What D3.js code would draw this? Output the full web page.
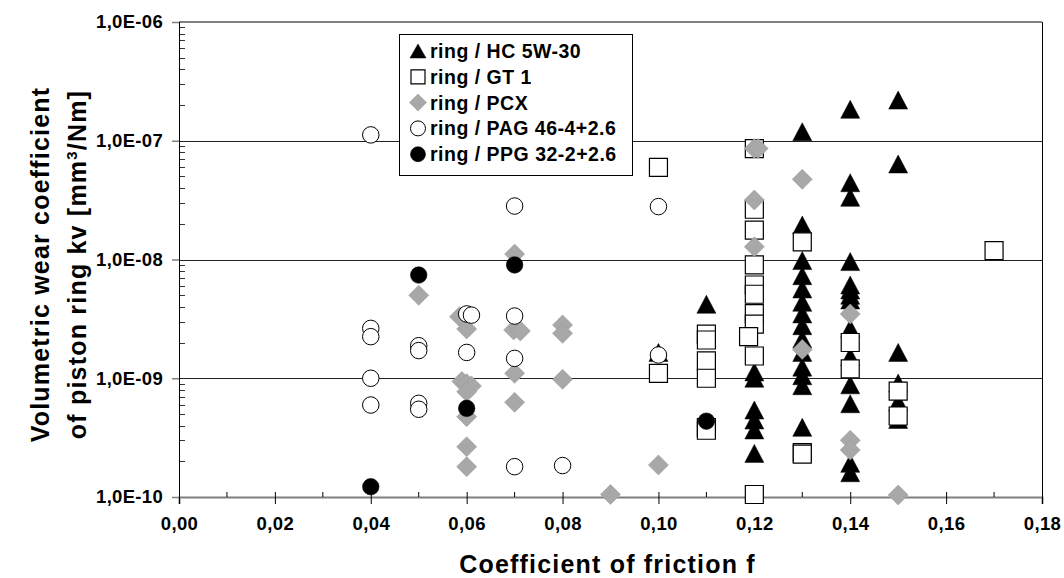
<!DOCTYPE html>
<html>
<head>
<meta charset="utf-8">
<script src="https://cdn.jsdelivr.net/npm/d3@7/dist/d3.min.js"></script>
<style>
  html, body { margin: 0; padding: 0; background: #fff; }
  svg { display: block; }
  text { font-family: "Liberation Sans", Arial, Helvetica, sans-serif; font-weight: bold; fill: #000; }
</style>
</head>
<body>
<svg id="chart" width="1064" height="578"></svg>
<script>
// ---- data: coefficient of friction f and volumetric wear coefficient kv [mm³/Nm] ----
const hcF  = [0.10, 0.11,
  0.12, 0.12, 0.12, 0.12, 0.12, 0.12,
  0.13, 0.13, 0.13, 0.13, 0.13, 0.13, 0.13, 0.13, 0.13, 0.13, 0.13, 0.13, 0.13, 0.13,
  0.14, 0.14, 0.14, 0.14, 0.14, 0.14, 0.14, 0.14, 0.14, 0.14, 0.14, 0.14, 0.14, 0.14,
  0.15, 0.15, 0.15, 0.15, 0.15, 0.15];
const hcKv = [1.65e-9, 4.2e-9,
  1.13e-9, 1.0e-9, 5.4e-10, 4.45e-10, 3.67e-10, 2.33e-10,
  1.19e-7, 1.95e-8, 9.8e-9, 7.3e-9, 5.65e-9, 4.36e-9, 3.48e-9, 2.77e-9, 2.14e-9, 1.65e-9, 1.24e-9, 1.05e-9, 8.65e-10, 3.86e-10,
  1.84e-7, 4.43e-8, 3.34e-8, 9.6e-9, 6.1e-9, 5.54e-9, 5.0e-9, 4.56e-9, 2.63e-9, 1.52e-9, 8.8e-10, 6.1e-10, 1.92e-10, 1.6e-10,
  2.2e-7, 6.37e-8, 1.65e-9, 9.1e-10, 6.3e-10, 4.5e-10];

const gtF  = [0.10, 0.10,
  0.11, 0.11, 0.11, 0.11, 0.11, 0.11,
  0.12, 0.12, 0.12, 0.12, 0.12, 0.12, 0.12, 0.12, 0.1188, 0.12, 0.12,
  0.13, 0.13, 0.13,
  0.14, 0.14,
  0.15, 0.15,
  0.17];
const gtKv = [5.97e-8, 1.1e-9,
  2.35e-9, 2.1e-9, 1.4e-9, 1.0e-9, 3.85e-10, 3.65e-10,
  8.6e-8, 2.65e-8, 1.77e-8, 9.0e-9, 6.1e-9, 5.1e-9, 3.5e-9, 2.86e-9, 2.24e-9, 1.54e-9, 1.05e-10,
  1.41e-8, 2.36e-10, 2.3e-10,
  2.0e-9, 1.2e-9,
  7.8e-10, 4.81e-10,
  1.19e-8];

const pcxF  = [0.05,
  0.0585, 0.06, 0.059, 0.06, 0.061, 0.06, 0.06, 0.06, 0.06,
  0.07, 0.0698, 0.0712, 0.07, 0.07,
  0.08, 0.08, 0.08,
  0.09, 0.10,
  0.12, 0.1208, 0.12, 0.12,
  0.13, 0.13,
  0.14, 0.14, 0.14,
  0.15];
const pcxKv = [5.0e-9,
  3.3e-9, 2.6e-9, 9.4e-10, 9.0e-10, 8.6e-10, 7.7e-10, 4.75e-10, 2.65e-10, 1.8e-10,
  1.11e-8, 2.55e-9, 2.5e-9, 1.1e-9, 6.27e-10,
  2.81e-9, 2.39e-9, 9.8e-10,
  1.05e-10, 1.86e-10,
  8.6e-8, 8.6e-8, 3.17e-8, 1.28e-8,
  4.73e-8, 1.75e-9,
  3.48e-9, 3.0e-10, 2.49e-10,
  1.04e-10];

const pagF  = [0.04, 0.04, 0.04, 0.04, 0.04,
  0.05, 0.05, 0.05, 0.05,
  0.06, 0.061, 0.06,
  0.07, 0.07, 0.07, 0.07,
  0.08,
  0.10, 0.10];
const pagKv = [1.12e-7, 2.63e-9, 2.24e-9, 1.0e-9, 5.95e-10,
  1.88e-9, 1.71e-9, 6.15e-10, 5.48e-10,
  3.48e-9, 3.4e-9, 1.65e-9,
  2.82e-8, 3.34e-9, 1.47e-9, 1.8e-10,
  1.84e-10,
  2.79e-8, 1.57e-9];

const ppgF  = [0.04, 0.05, 0.06, 0.07, 0.11];
const ppgKv = [1.22e-10, 7.4e-9, 5.58e-10, 9.0e-9, 4.35e-10];

const seriesNames = ["ring / HC 5W-30", "ring / GT 1", "ring / PCX", "ring / PAG 46-4+2.6", "ring / PPG 32-2+2.6"];
const xTicks = [0, 0.02, 0.04, 0.06, 0.08, 0.10, 0.12, 0.14, 0.16, 0.18];
const yTicks = [1e-10, 1e-9, 1e-8, 1e-7, 1e-6];

// ---- layout ----
const plot = { left: 179, right: 1042, top: 22, bottom: 497 };
const svg = d3.select("#chart");

const x = d3.scaleLinear().domain([0, 0.18]).range([plot.left, plot.right]);
const y = d3.scaleLog().domain([1e-10, 1e-6]).range([plot.bottom, plot.top]);

// marker shapes, centred on their bounding box
const shapes = {
  triangle: (s) => { const w = s.w / 2, h = s.h / 2; return `M0,${-h}L${w},${h}L${-w},${h}Z`; },
  square:   (s) => { const w = s.w / 2; return `M${-w},${-w}H${w}V${w}H${-w}Z`; },
  diamond:  (s) => { const w = s.w / 2, h = s.h / 2; return `M0,${-h}L${w},0L0,${h}L${-w},0Z`; },
  circle:   (s) => { const r = s.w / 2; return `M${r},0A${r},${r} 0 1,1 ${-r},0A${r},${r} 0 1,1 ${r},0Z`; }
};

const series = [
  { name: seriesNames[0], f: hcF,  kv: hcKv,  shape: "triangle", fill: "#000",    stroke: "#000",    sw: 0.5, size: { w: 19, h: 18 }, leg: { w: 16, h: 14 } },
  { name: seriesNames[1], f: gtF,  kv: gtKv,  shape: "square",   fill: "#fff",    stroke: "#000",    sw: 1.2, size: { w: 18, h: 18 }, leg: { w: 14, h: 14 } },
  { name: seriesNames[2], f: pcxF, kv: pcxKv, shape: "diamond",  fill: "#a8a8a8", stroke: "#9c9c9c", sw: 0.6, size: { w: 20, h: 20 }, leg: { w: 17, h: 17 } },
  { name: seriesNames[3], f: pagF, kv: pagKv, shape: "circle",   fill: "#fff",    stroke: "#000",    sw: 1.0, size: { w: 16.5, h: 16.5 }, leg: { w: 15, h: 15 } },
  { name: seriesNames[4], f: ppgF, kv: ppgKv, shape: "circle",   fill: "#000",    stroke: "#000",    sw: 0.6, size: { w: 16.5, h: 16.5 }, leg: { w: 15, h: 15 } }
];

// ---- gridlines at each decade ----
svg.append("g")
  .selectAll("line")
  .data(yTicks.filter(d => d > 1e-10 && d < 1e-6))
  .join("line")
  .attr("x1", plot.left).attr("x2", plot.right)
  .attr("y1", d => Math.round(y(d)) + 0.5).attr("y2", d => Math.round(y(d)) + 0.5)
  .attr("stroke", "#222").attr("stroke-width", 1);

// top frame line and right frame line
svg.append("line")
  .attr("x1", plot.left).attr("x2", plot.right)
  .attr("y1", y(1e-6)).attr("y2", y(1e-6))
  .attr("stroke", "#7f7f7f").attr("stroke-width", 2);
svg.append("line")
  .attr("x1", plot.right + 0.5).attr("x2", plot.right + 0.5)
  .attr("y1", plot.top).attr("y2", plot.bottom)
  .attr("stroke", "#000").attr("stroke-width", 1);

// ---- x axis ----
const fmtX = d => d3.format(".2f")(d).replace(".", ",");
const xAxis = d3.axisBottom(x).tickValues(xTicks).tickFormat(fmtX).tickSize(7).tickPadding(13);
const gx = svg.append("g").attr("transform", `translate(0,${plot.bottom})`).call(xAxis);
gx.select(".domain").attr("stroke", "#7f7f7f").attr("stroke-width", 2);
gx.selectAll(".tick line").attr("stroke", "#000").attr("y1", -5);
gx.selectAll(".tick text").attr("font-size", 18.5).attr("font-family", "Liberation Sans, Arial, sans-serif")
  .attr("font-weight", "bold").attr("letter-spacing", 0.4);
// minor x ticks
const xMinor = d3.range(1, 18, 2).map(i => i / 100);
svg.append("g").selectAll("line").data(xMinor).join("line")
  .attr("x1", d => x(d)).attr("x2", d => x(d))
  .attr("y1", plot.bottom - 5).attr("y2", plot.bottom)
  .attr("stroke", "#000");

// ---- y axis ----
const fmtY = d => {
  const e = Math.round(Math.log10(d));
  return "1,0E-" + String(-e).padStart(2, "0");
};
const yAxis = d3.axisLeft(y).tickValues(yTicks).tickFormat(fmtY).tickSize(7).tickPadding(9);
const gy = svg.append("g").attr("transform", `translate(${plot.left},0)`).call(yAxis);
gy.select(".domain").attr("stroke", "#000").attr("stroke-width", 1);
gy.selectAll(".tick line").attr("stroke", "#7f7f7f").attr("stroke-width", 1.5);
gy.selectAll(".tick text").attr("font-size", 18.5).attr("font-family", "Liberation Sans, Arial, sans-serif")
  .attr("font-weight", "bold").attr("letter-spacing", 0.3);
// minor y ticks (2..9 within each decade), pointing into the plot
const yMinor = [];
for (let e = -10; e < -6; e++) for (let m = 2; m <= 9; m++) yMinor.push(m * Math.pow(10, e));
svg.append("g").selectAll("line").data(yMinor).join("line")
  .attr("x1", plot.left).attr("x2", plot.left + 6)
  .attr("y1", d => Math.round(y(d)) + 0.5).attr("y2", d => Math.round(y(d)) + 0.5)
  .attr("stroke", "#000").attr("stroke-width", 0.8);

// ---- axis titles ----
svg.append("text")
  .attr("x", (plot.left + plot.right) / 2 - 3).attr("y", 573)
  .attr("text-anchor", "middle").attr("font-size", 25).attr("letter-spacing", 1.2)
  .text("Coefficient of friction f");

const yTitle = svg.append("g").attr("transform", `translate(0,${(plot.top + plot.bottom) / 2 + 5}) rotate(-90)`);
yTitle.append("text").attr("x", 0).attr("y", 49)
  .attr("text-anchor", "middle").attr("font-size", 25).attr("letter-spacing", 1.2)
  .text("Volumetric wear coefficient");
const t2 = yTitle.append("text").attr("x", 0).attr("y", 86)
  .attr("text-anchor", "middle").attr("font-size", 25).attr("letter-spacing", 1.2);
t2.append("tspan").text("of piston ring kv [mm");
t2.append("tspan").text("3").attr("font-size", 15).attr("dy", -9);
t2.append("tspan").text("/Nm]").attr("dy", 9);

// ---- data markers (series drawn in order, later ones on top) ----
series.forEach(s => {
  const pts = s.f.map((f, i) => ({ f, kv: s.kv[i] }));
  svg.append("g").selectAll("path").data(pts).join("path")
    .attr("d", shapes[s.shape](s.size))
    .attr("transform", d => `translate(${x(d.f)},${y(d.kv)})`)
    .attr("fill", s.fill).attr("stroke", s.stroke).attr("stroke-width", s.sw);
});

// ---- legend ----
const leg = svg.append("g");
leg.append("rect")
  .attr("x", 399.5).attr("y", 34.5).attr("width", 233).attr("height", 141)
  .attr("fill", "#fff").attr("stroke", "#000").attr("stroke-width", 1);
series.forEach((s, i) => {
  const cy = 51 + i * 25.8;
  leg.append("path")
    .attr("d", shapes[s.shape](s.leg))
    .attr("transform", `translate(418,${cy})`)
    .attr("fill", s.fill).attr("stroke", s.stroke).attr("stroke-width", s.sw);
  leg.append("text")
    .attr("x", 430).attr("y", cy + 7)
    .attr("font-size", 19.5).attr("letter-spacing", 0.5)
    .text(s.name);
});
</script>
</body>
</html>
